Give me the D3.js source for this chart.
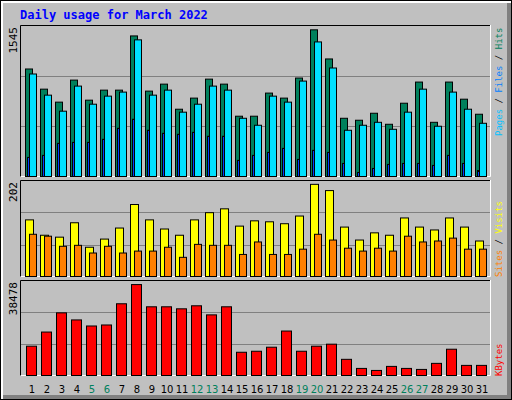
<!DOCTYPE html>
<html><head><meta charset="utf-8">
<script src="https://cdn.jsdelivr.net/npm/d3@7"></script>
<style>body{margin:0;background:#fff}</style>
</head><body>
<svg id="chart" width="512" height="400"></svg>
<script>
const days = d3.range(1, 32)
const weekendDays = [5, 6, 12, 13, 19, 20, 26, 27]
const hits = [1103,898,766,990,786,888,888,1439,878,949,694,807,1000,949,623,623,858,807,1011,1501,1205,602,582,653,541,755,970,561,970,796,643]
const files = [1052,837,674,929,745,827,868,1399,837,888,664,745,929,888,602,531,827,766,980,1378,1113,480,531,561,490,664,898,521,868,694,551]
const pages = [204,225,347,357,357,388,500,592,480,449,439,459,419,419,174,225,255,296,184,276,255,143,51,92,133,143,143,123,225,143,71]
const visits = [120,88,84,114,63,80,103,152,120,101,88,120,135,143,107,118,116,112,128,194,181,105,78,93,88,124,105,99,124,105,76]
const sites = [90,86,65,67,51,65,51,55,55,63,42,69,67,67,48,74,48,48,59,90,78,61,55,61,55,86,74,76,82,59,59]
const kbytes = [12681,18599,26630,23671,21135,21558,30434,38466,29166,29166,28321,29589,25785,29166,10145,10568,12258,19022,10568,12681,13526,7186,3382,2536,4227,3382,2959,5495,11413,4650,4650]

const svg = d3.select("#chart")
const mono = "'DejaVu Sans Mono', monospace"

// outer frame with bevel
svg.append("rect").attr("x", 0).attr("y", 0).attr("width", 512).attr("height", 400).attr("fill", "#000")
svg.append("rect").attr("x", 1).attr("y", 1).attr("width", 510).attr("height", 398).attr("fill", "#fff")
svg.append("rect").attr("x", 3).attr("y", 3).attr("width", 508).attr("height", 396).attr("fill", "#808080")
svg.append("rect").attr("x", 3).attr("y", 3).attr("width", 504).attr("height", 392).attr("fill", "#c0c0c0")

svg.append("text").attr("x", 20).attr("y", 19).text("Daily usage for March 2022")
  .style("font-family", mono).style("font-weight", "bold").style("font-size", "12px").attr("fill", "#0000ff")

const x = d3.scaleBand().domain(days).range([20, 485])

const panels = [
  {top: 25, bottom: 177, max: 1545, label: "1545"},
  {top: 180, bottom: 277, max: 202, label: "202"},
  {top: 280, bottom: 376, max: 38478 * 285 / 273, label: "38478"}
]
panels.forEach(p => {
  p.y = d3.scaleLinear().domain([0, p.max]).range([p.bottom, p.top])
  const h = p.bottom - p.top
  svg.append("rect").attr("x", 20).attr("y", p.top).attr("width", 471).attr("height", h).attr("fill", "#c0c0c0")
  ;[1 / 3, 2 / 3].forEach(f => {
    svg.append("line").attr("x1", 21).attr("x2", 490)
      .attr("y1", Math.round(p.bottom - h * f) + 0.5).attr("y2", Math.round(p.bottom - h * f) + 0.5)
      .attr("stroke", "#808080").attr("stroke-width", 1)
  })
  svg.append("path").attr("d", `M20.5,${p.bottom}V${p.top + 0.5}H491`).attr("stroke", "#000").attr("fill", "none")
  svg.append("path").attr("d", `M20.5,${p.bottom - 0.5}H490.5V${p.top}`).attr("stroke", "#fff").attr("fill", "none")
  svg.append("text").attr("transform", `translate(17,${p.top + 2}) rotate(-90)`)
    .attr("text-anchor", "end").text(p.label)
    .style("font-family", mono).style("font-size", "11px").attr("fill", "#000")
})

function bars(values, panel, offset, width, color) {
  const p = panels[panel]
  svg.append("g").selectAll("rect").data(values).join("rect")
    .attr("x", (d, i) => x(days[i]) + offset + 0.5)
    .attr("y", d => p.y(d) + 0.5)
    .attr("width", width)
    .attr("height", d => p.bottom - p.y(d) - 1)
    .attr("fill", color).attr("stroke", "#000").attr("stroke-width", 1)
}
bars(hits, 0, 5, 7, "#00805c")
bars(files, 0, 9, 7, "#00e0ff")
bars(pages, 0, 7, 2, "#0040ff")
bars(visits, 1, 5, 8, "#ffff00")
bars(sites, 1, 9, 7, "#ff8000")
bars(kbytes, 2, 6, 10, "#ff0000")

svg.append("g").selectAll("text").data(days).join("text")
  .attr("x", d => x(d) + 12).attr("y", 393)
  .attr("text-anchor", "middle").text(d => d)
  .style("font-family", "'DejaVu Sans', sans-serif").style("font-size", "10px")
  .attr("fill", d => weekendDays.includes(d) ? "#00805c" : "#000")

function sideLabel(parts, yEnd) {
  const t = svg.append("text").attr("transform", `translate(502,${yEnd}) rotate(-90)`)
    .style("font-family", mono).style("font-size", "9px")
  parts.forEach(([s, c]) => t.append("tspan").text(s).attr("fill", c))
}
sideLabel([["Pages", "#00c0ff"], [" / ", "#000"], ["Files", "#0080ff"], [" / ", "#000"], ["Hits", "#00805c"]], 136)
sideLabel([["Sites", "#ff8000"], [" / ", "#000"], ["Visits", "#ffff00"]], 277)
sideLabel([["KBytes", "#ff0000"]], 376)
</script>
</body></html>
